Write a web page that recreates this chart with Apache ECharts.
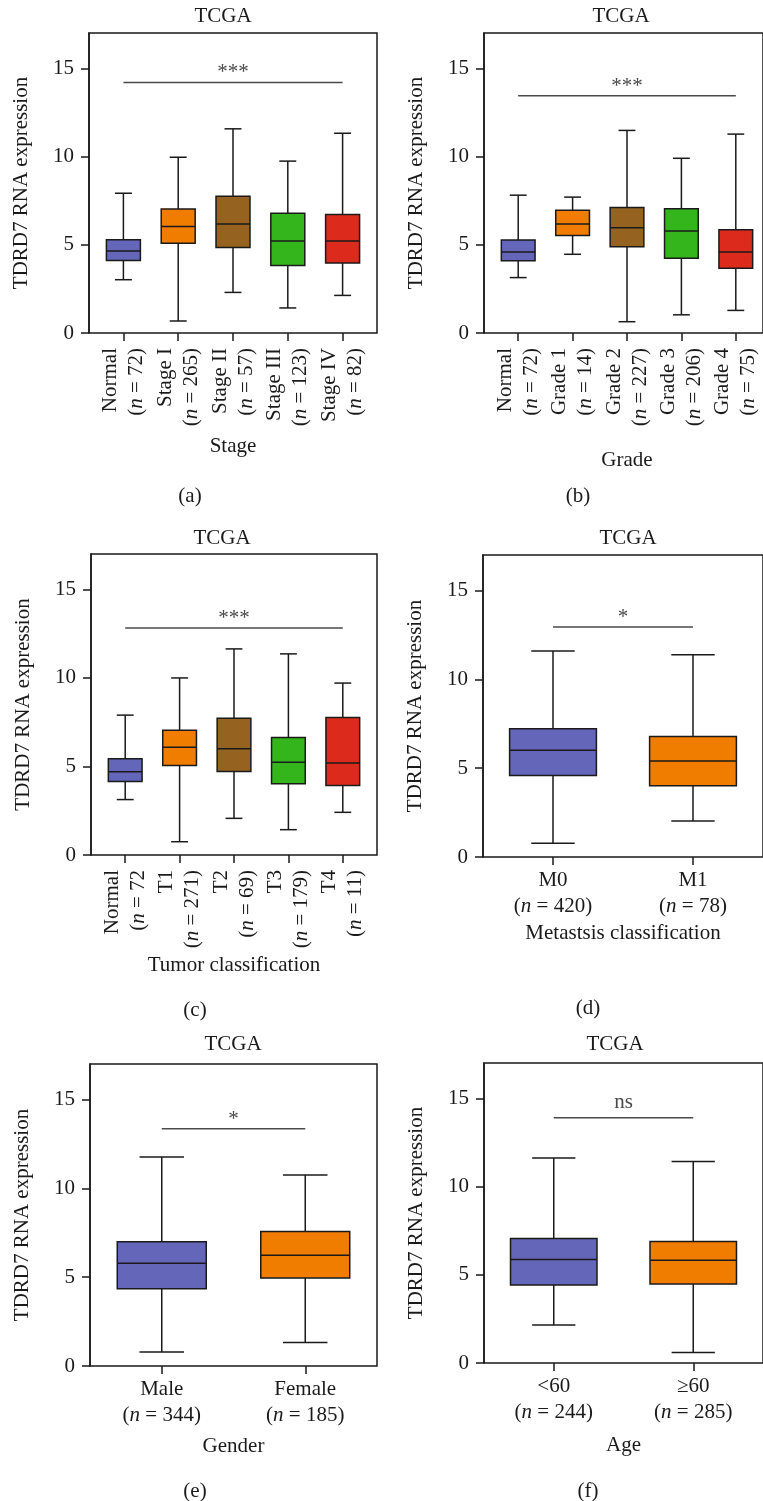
<!DOCTYPE html>
<html><head><meta charset="utf-8">
<script src="https://cdn.jsdelivr.net/npm/echarts@6/dist/echarts.min.js"></script>
<style>html,body{margin:0;padding:0;background:#fff}#c{width:763px;height:1501px}</style>
</head><body><div id="c"></div>
<script>
// ---------- data ----------
const yTicks = [0, 5, 10, 15];
const yAxisTitle = 'TDRD7 RNA expression';

// stats per group: [min, Q1, median, Q3, max]
const aCats = ['Normal\n({i|n} = 72)', 'Stage I\n({i|n} = 265)', 'Stage II\n({i|n} = 57)', 'Stage III\n({i|n} = 123)', 'Stage IV\n({i|n} = 82)'];
const aStats = [[3.02, 4.11, 4.64, 5.29, 7.92], [0.68, 5.09, 6.04, 7.02, 9.96], [2.30, 4.85, 6.17, 7.75, 11.57], [1.42, 3.83, 5.21, 6.78, 9.74], [2.13, 3.96, 5.21, 6.72, 11.32]];
const aSig = [0, 4, 14.2]; const aSigText = '***';

const bCats = ['Normal\n({i|n} = 72)', 'Grade 1\n({i|n} = 14)', 'Grade 2\n({i|n} = 227)', 'Grade 3\n({i|n} = 206)', 'Grade 4\n({i|n} = 75)'];
const bStats = [[3.14, 4.10, 4.59, 5.27, 7.81], [4.46, 5.53, 6.17, 6.96, 7.70], [0.64, 4.89, 5.96, 7.11, 11.48], [1.03, 4.24, 5.78, 7.04, 9.90], [1.28, 3.67, 4.59, 5.85, 11.27]];
const bSig = [0, 4, 13.45]; const bSigText = '***';

const cCats = ['Normal\n({i|n} = 72', 'T1\n({i|n} = 271)', 'T2\n({i|n} = 69)', 'T3\n({i|n} = 179)', 'T4\n({i|n} = 11)'];
const cStats = [[3.13, 4.15, 4.70, 5.43, 7.90], [0.75, 5.05, 6.09, 7.05, 10.0], [2.07, 4.72, 6.00, 7.73, 11.64], [1.43, 4.02, 5.24, 6.64, 11.36], [2.41, 3.92, 5.19, 7.77, 9.71]];
const cSig = [0, 4, 12.82]; const cSigText = '***';

const dCats = ['M0\n({i|n} = 420)', 'M1\n({i|n} = 78)'];
const dStats = [[0.78, 4.59, 6.01, 7.22, 11.60], [2.02, 4.01, 5.41, 6.79, 11.38]];
const dSig = [0, 1, 12.94]; const dSigText = '*';

const eCats = ['Male\n({i|n} = 344)', 'Female\n({i|n} = 185)'];
const eStats = [[0.79, 4.35, 5.78, 7.00, 11.76], [1.32, 4.95, 6.23, 7.57, 10.75]];
const eSig = [0, 1, 13.36]; const eSigText = '*';

const fCats = ['<60\n({i|n} = 244)', '≥60\n({i|n} = 285)'];
const fStats = [[2.16, 4.42, 5.87, 7.06, 11.61], [0.60, 4.48, 5.82, 6.89, 11.42]];
const fSig = [0, 1, 13.9]; const fSigText = 'ns';

// ---------- style / layout ----------
const PALETTE = ['#6366b9', '#f07c00', '#96621f', '#35b51c', '#dc2b1c'];
const FONT = 'Liberation Serif';
const FS = 21;
const INK = '#1a1a1a';

const panels = [
  {cats: aCats, stats: aStats, sig: aSig, sigText: aSigText, xName: 'Stage', left: 89, top: 33, width: 288, height: 300, inset: 7, rotate: 90, nameGap: 103, title: [223, 16], cap: [190, 496, '(a)']},
  {cats: bCats, stats: bStats, sig: bSig, sigText: bSigText, xName: 'Grade', left: 484, top: 33, width: 288, height: 300, inset: 7, rotate: 90, nameGap: 117, title: [621, 16], cap: [578, 496, '(b)']},
  {cats: cCats, stats: cStats, sig: cSig, sigText: cSigText, xName: 'Tumor classification', left: 91, top: 554, width: 286, height: 301, inset: 7, rotate: 90, nameGap: 100, title: [222, 538], cap: [195, 1010, '(c)']},
  {cats: dCats, stats: dStats, sig: dSig, sigText: dSigText, xName: 'Metastsis classification', left: 483, top: 555, width: 288, height: 302, inset: 0, rotate: 0, nameGap: 66, title: [628, 538], cap: [588, 1008, '(d)']},
  {cats: eCats, stats: eStats, sig: eSig, sigText: eSigText, xName: 'Gender', left: 90, top: 1064, width: 287, height: 302, inset: 0, rotate: 0, nameGap: 70, title: [233, 1044], cap: [195, 1491, '(e)']},
  {cats: fCats, stats: fStats, sig: fSig, sigText: fSigText, xName: 'Age', left: 484, top: 1063, width: 288, height: 300, inset: 0, rotate: 0, nameGap: 72, title: [615, 1044], cap: [588, 1491, '(f)']}
];

function boxRender(params, api) {
  const x = api.value(0);
  const p = [1, 2, 3, 4, 5].map(d => api.coord([x, api.value(d)]));
  const cx = p[0][0];
  const band = api.size([1, 0])[0];
  const bw = band * 0.62, cw = bw * 0.5;
  const col = PALETTE[params.dataIndex % PALETTE.length];
  const ls = {stroke: INK, lineWidth: 1.5};
  return {type: 'group', children: [
    {type: 'line', shape: {x1: cx, y1: p[3][1], x2: cx, y2: p[4][1]}, style: ls},
    {type: 'line', shape: {x1: cx, y1: p[1][1], x2: cx, y2: p[0][1]}, style: ls},
    {type: 'line', shape: {x1: cx - cw / 2, y1: p[4][1], x2: cx + cw / 2, y2: p[4][1]}, style: ls},
    {type: 'line', shape: {x1: cx - cw / 2, y1: p[0][1], x2: cx + cw / 2, y2: p[0][1]}, style: ls},
    {type: 'rect', shape: {x: cx - bw / 2, y: p[3][1], width: bw, height: p[1][1] - p[3][1]}, style: {fill: col, stroke: INK, lineWidth: 1.5}},
    {type: 'line', shape: {x1: cx - bw / 2, y1: p[2][1], x2: cx + bw / 2, y2: p[2][1]}, style: ls}
  ]};
}

function makeSigRender(text) {
  // asterisks sit high in the em box, so they need less lift than letters
  const lift = text.indexOf('*') >= 0 ? 1 : -5;
  return function (params, api) {
    const a = api.coord([api.value(0), api.value(2)]);
    const b = api.coord([api.value(1), api.value(2)]);
    return {type: 'group', children: [
      {type: 'line', shape: {x1: a[0], y1: a[1], x2: b[0], y2: b[1]}, style: {stroke: '#4a4a4a', lineWidth: 1.5}},
      {type: 'text', x: (a[0] + b[0]) / 2, y: a[1] + lift, style: {text: text, fill: '#4a4a4a', font: FS + 'px "' + FONT + '"', align: 'center', verticalAlign: 'bottom', textAlign: 'center', textVerticalAlign: 'bottom'}}
    ]};
  };
}

const option = {
  animation: false,
  backgroundColor: '#fff',
  grid: [], xAxis: [], yAxis: [], series: [], graphic: []
};

panels.forEach((P, i) => {
  const gF = 2 * i, gD = 2 * i + 1;
  option.grid.push({left: P.left, top: P.top, width: P.width, height: P.height, show: true, borderColor: INK, borderWidth: 1.5, backgroundColor: 'transparent'});
  option.grid.push({left: P.left + P.inset, top: P.top, width: P.width - 2 * P.inset, height: P.height});
  // frame axes
  option.xAxis.push({gridIndex: gF, type: 'value', show: false, min: 0, max: 1});
  option.yAxis.push({
    gridIndex: gF, type: 'value', min: 0, max: 17,
    name: yAxisTitle, nameLocation: 'middle', nameGap: 57,
    nameTextStyle: {fontFamily: FONT, fontSize: FS, color: INK},
    axisLine: {show: true, lineStyle: {color: INK, width: 1.5}},
    axisTick: {show: true, length: 8, lineStyle: {color: INK, width: 1.5}, customValues: yTicks},
    axisLabel: {fontFamily: FONT, fontSize: FS, color: INK, margin: 15, customValues: yTicks},
    splitLine: {show: false}
  });
  // data axes
  const rich = {i: {fontStyle: 'italic', fontFamily: FONT, fontSize: FS, color: INK, lineHeight: 26}};
  option.xAxis.push({
    gridIndex: gD, type: 'category', data: P.cats,
    name: P.xName, nameLocation: 'middle', nameGap: P.nameGap,
    nameTextStyle: {fontFamily: FONT, fontSize: FS, color: INK},
    axisLine: {show: false},
    axisTick: {show: true, alignWithLabel: true, length: 8, lineStyle: {color: INK, width: 1.5}},
    axisLabel: {interval: 0, rotate: P.rotate, fontFamily: FONT, fontSize: FS, color: INK, lineHeight: 26, margin: P.rotate ? 15 : 10, rich: rich}
  });
  option.yAxis.push({gridIndex: gD, type: 'value', min: 0, max: 17, show: false, splitLine: {show: false}});
  option.series.push({
    type: 'custom', xAxisIndex: gD, yAxisIndex: gD, renderItem: boxRender,
    encode: {x: 0, y: [1, 2, 3, 4, 5]},
    data: P.stats.map((s, k) => [k].concat(s))
  });
  option.series.push({
    type: 'custom', xAxisIndex: gD, yAxisIndex: gD, renderItem: makeSigRender(P.sigText),
    encode: {x: [0, 1], y: 2},
    data: [P.sig]
  });
  option.graphic.push({type: 'text', x: P.title[0], y: P.title[1], style: {text: 'TCGA', font: FS + 'px "' + FONT + '"', fill: INK, align: 'center', verticalAlign: 'middle'}});
  option.graphic.push({type: 'text', x: P.cap[0], y: P.cap[1], style: {text: P.cap[2], font: FS + 'px "' + FONT + '"', fill: INK, align: 'center', verticalAlign: 'middle'}});
});

const chart = echarts.init(document.getElementById('c'), null, {renderer: 'canvas'});
chart.setOption(option);
</script>
</body></html>
